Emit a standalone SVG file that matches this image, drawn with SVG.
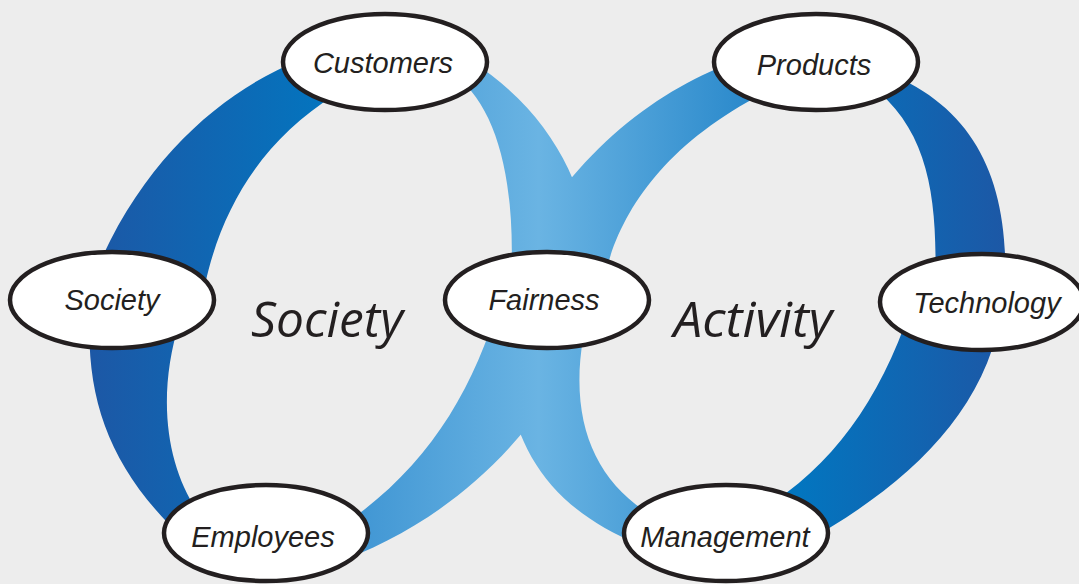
<svg xmlns="http://www.w3.org/2000/svg" width="1079" height="584" viewBox="0 0 1079 584">
<style>
.node ellipse{fill:#fff;stroke:#231f20;stroke-width:4.5}
.node text{font-family:"Liberation Sans",Arial,sans-serif;font-style:italic;font-size:29px;fill:#231f20;text-anchor:middle}
.big{font-family:"Open Sans","Noto Sans",sans-serif;font-style:italic;font-size:50px;fill:#231f20;text-anchor:middle}
</style>
<defs>
<linearGradient id="gL" gradientUnits="userSpaceOnUse" x1="85" y1="0" x2="330" y2="0">
<stop offset="0" stop-color="#1d57a5"/><stop offset="1" stop-color="#0375bf"/>
</linearGradient>
<linearGradient id="gR" gradientUnits="userSpaceOnUse" x1="800" y1="0" x2="1010" y2="0">
<stop offset="0" stop-color="#0375bf"/><stop offset="1" stop-color="#1d57a5"/>
</linearGradient>
<linearGradient id="gC" gradientUnits="userSpaceOnUse" x1="350" y1="0" x2="760" y2="0">
<stop offset="0" stop-color="#3f95d3"/><stop offset="0.46" stop-color="#6ab4e3"/><stop offset="1" stop-color="#2787ca"/>
</linearGradient>
</defs>
<rect width="1079" height="584" fill="#ededed"/>
<g id="connectors">
<path d="M300,60 C230,88 150,150 100,262 L205,285 C222,205 265,138 335,95 Z" fill="url(#gL)"/>
<path d="M90,310 C85,400 110,470 185,540 L200,515 C168,470 155,400 180,320 Z" fill="url(#gL)"/>
<path d="M880,70 C975,105 1010,180 1005,290 L935,290 C938,200 930,130 870,85 Z" fill="url(#gR)"/>
<path d="M1000,320 C980,420 900,490 800,545 L760,510 C830,470 880,400 910,310 Z" fill="url(#gR)"/>
<path d="M455,75 C500,110 518,190 510,300 L595,300 C595,215 570,125 470,60 Z" fill="url(#gC)"/>
<path d="M740,60 C650,90 550,170 500,300 L600,300 C610,230 650,150 770,90 Z" fill="url(#gC)"/>
<path d="M500,300 C470,400 420,480 320,540 L330,565 C445,525 545,440 600,300 Z" fill="url(#gC)"/>
<path d="M505,290 C495,420 530,500 640,545 L660,520 C585,480 560,400 595,290 Z" fill="url(#gC)"/>
</g>
<g id="customers" class="node"><ellipse cx="385" cy="62" rx="102" ry="48"/><text x="383" y="73">Customers</text></g>
<g id="products" class="node"><ellipse cx="816" cy="62" rx="102" ry="48"/><text x="814" y="75">Products</text></g>
<g id="society" class="node"><ellipse cx="112" cy="300" rx="102" ry="48"/><text x="112" y="310">Society</text></g>
<g id="fairness" class="node"><ellipse cx="547" cy="300" rx="102" ry="48"/><text x="544" y="310">Fairness</text></g>
<g id="technology" class="node"><ellipse cx="982" cy="302" rx="102" ry="48"/><text x="987" y="313">Technology</text></g>
<g id="employees" class="node"><ellipse cx="266" cy="533" rx="102" ry="48"/><text x="263" y="547">Employees</text></g>
<g id="management" class="node"><ellipse cx="726" cy="533" rx="102" ry="48"/><text x="725" y="547">Management</text></g>
<text class="big" x="327" y="337" textLength="152" lengthAdjust="spacingAndGlyphs">Society</text>
<text class="big" x="753" y="337" textLength="159" lengthAdjust="spacingAndGlyphs">Activity</text>
</svg>
